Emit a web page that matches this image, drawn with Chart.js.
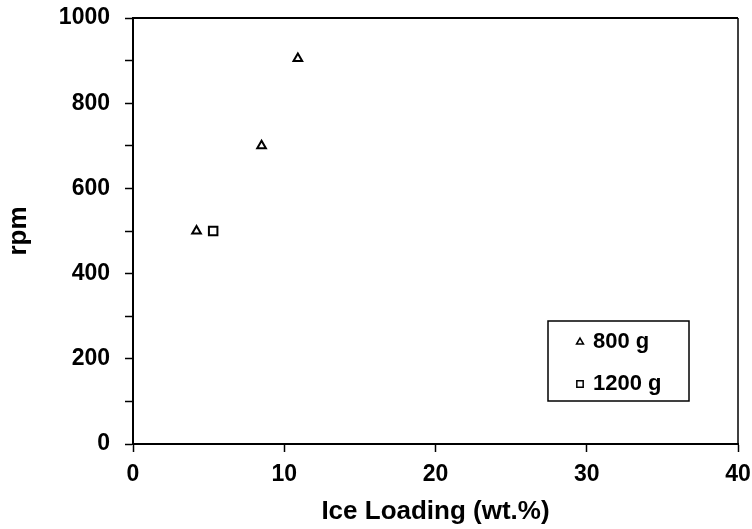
<!DOCTYPE html>
<html>
<head>
<meta charset="utf-8">
<script src="https://cdn.jsdelivr.net/npm/chart.js@4/dist/chart.umd.min.js"></script>
<style>
  body { margin: 0; background: #fff; }
  #wrap { width: 752px; height: 529px; }
</style>
</head>
<body>
<div id="wrap"><canvas id="myChart" width="752" height="529"></canvas></div>
<script>
// Data
const series800X = [4.2, 8.5, 10.9];
const series800Y = [500, 700, 905];
const series1200X = [5.3];
const series1200Y = [500];
const seriesLabels = ["800 g", "1200 g"];
const xTicks = [0, 10, 20, 30, 40];
const yTicks = [0, 200, 400, 600, 800, 1000];

const FONT = "'Liberation Sans', Arial, Helvetica, sans-serif";

function toPoints(xs, ys) {
  return xs.map((x, i) => ({ x: x, y: ys[i] }));
}

// Top and right edges of the plot frame
const frameBox = {
  id: "frameBox",
  afterDraw(chart) {
    const { ctx, chartArea: a } = chart;
    ctx.save();
    ctx.strokeStyle = "#000";
    ctx.lineWidth = 2;
    ctx.beginPath();
    ctx.moveTo(a.left, a.top);
    ctx.lineTo(a.right, a.top);
    ctx.stroke();
    ctx.lineWidth = 1.5;
    ctx.beginPath();
    ctx.moveTo(a.right, a.top);
    ctx.lineTo(a.right, a.bottom);
    ctx.stroke();
    ctx.restore();
  }
};

// Boxed legend inside the plot, lower right
const boxLegend = {
  id: "boxLegend",
  afterDraw(chart) {
    const { ctx } = chart;
    const box = { left: 548, top: 321, right: 689, bottom: 401 };
    ctx.save();
    ctx.fillStyle = "#fff";
    ctx.fillRect(box.left, box.top, box.right - box.left, box.bottom - box.top);
    ctx.strokeStyle = "#000";
    ctx.lineWidth = 1.5;
    ctx.strokeRect(box.left, box.top, box.right - box.left, box.bottom - box.top);

    const rows = [342, 384];
    chart.data.datasets.forEach((ds, i) => {
      const y = rows[i];
      ctx.strokeStyle = "#000";
      ctx.fillStyle = "rgba(0,0,0,0)";
      ctx.lineWidth = 1.5;
      const opts = { pointStyle: ds.pointStyle, radius: ds.pointStyle === "rect" ? 4.5 : 4, rotation: 0, borderWidth: 1.5 };
      if (Chart.helpers && Chart.helpers.drawPoint) {
        Chart.helpers.drawPoint(ctx, opts, 580, y);
      }
      ctx.fillStyle = "#000";
      ctx.font = "bold 22px " + FONT;
      ctx.textBaseline = "middle";
      ctx.textAlign = "left";
      ctx.fillText(ds.label, 593, y);
    });
    ctx.restore();
  }
};

const ctx = document.getElementById("myChart").getContext("2d");
new Chart(ctx, {
  type: "scatter",
  data: {
    datasets: [
      {
        label: seriesLabels[0],
        data: toPoints(series800X, series800Y),
        pointStyle: "triangle",
        pointRadius: 5,
        borderWidth: 2,
        borderColor: "#000",
        backgroundColor: "rgba(0,0,0,0)"
      },
      {
        label: seriesLabels[1],
        data: toPoints(series1200X, series1200Y),
        pointStyle: "rect",
        pointRadius: 6,
        borderWidth: 2,
        borderColor: "#000",
        backgroundColor: "rgba(0,0,0,0)"
      }
    ]
  },
  options: {
    responsive: false,
    animation: false,
    layout: { padding: 0 },
    plugins: {
      legend: { display: false },
      tooltip: { enabled: false }
    },
    scales: {
      x: {
        type: "linear",
        min: xTicks[0],
        max: xTicks[xTicks.length - 1],
        afterBuildTicks: (scale) => { scale.ticks = xTicks.map(v => ({ value: v })); },
        afterFit: (scale) => {
          scale.height = 85;
          scale.paddingLeft = 0;
          scale.paddingRight = 14;
        },
        border: { display: true, color: "#000", width: 2 },
        grid: { drawOnChartArea: false, drawTicks: true, tickLength: 8, tickColor: "#000", tickWidth: 1.5 },
        ticks: { color: "#000", padding: 9, font: { family: FONT, size: 23, weight: "bold" } },
        title: {
          display: true,
          text: "Ice Loading (wt.%)",
          color: "#000",
          padding: { top: 0, bottom: 2 },
          font: { family: FONT, size: 26, weight: "bold" }
        }
      },
      y: {
        type: "linear",
        min: yTicks[0],
        max: yTicks[yTicks.length - 1],
        ticks: {
          stepSize: 100,
          color: "#000",
          padding: 15,
          font: { family: FONT, size: 23, weight: "bold" },
          callback: (v) => (yTicks.includes(v) ? v : "")
        },
        afterFit: (scale) => {
          scale.width = 133;
          scale.paddingTop = 18;
          scale.paddingBottom = 0;
        },
        border: { display: true, color: "#000", width: 2 },
        grid: { drawOnChartArea: false, drawTicks: true, tickLength: 8, tickColor: "#000", tickWidth: 1.5 },
        title: {
          display: true,
          text: "rpm",
          color: "#000",
          padding: { top: 3, bottom: 0 },
          font: { family: FONT, size: 26, weight: "bold" }
        }
      }
    }
  },
  plugins: [frameBox, boxLegend]
});
</script>
</body>
</html>
